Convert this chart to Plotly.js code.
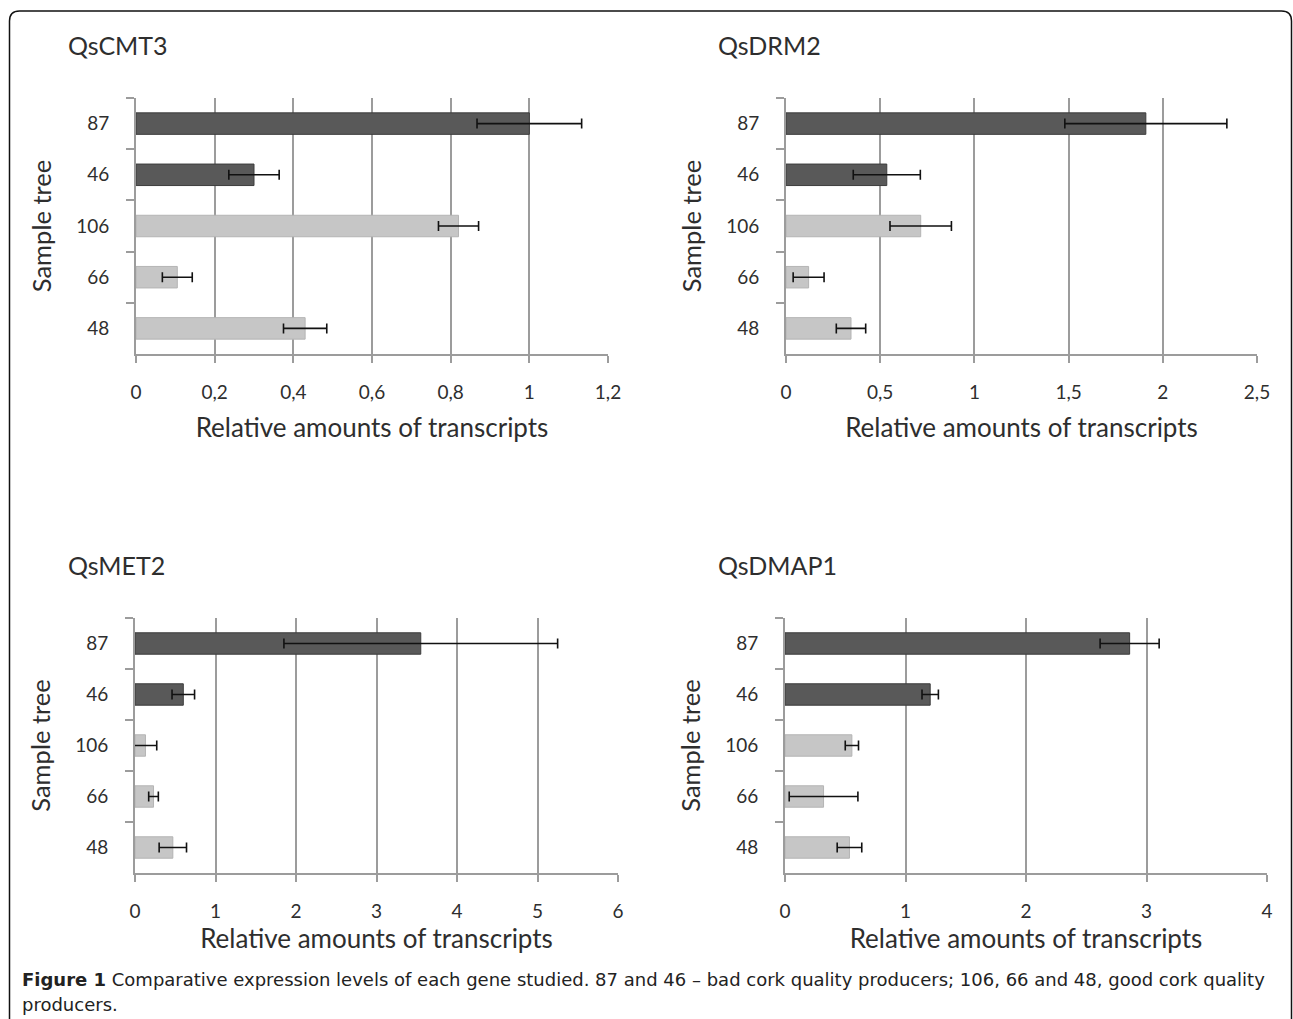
<!DOCTYPE html>
<html>
<head>
<meta charset="utf-8">
<script src="https://cdn.plot.ly/plotly-3.0.1.min.js"></script>
<style>
  html, body { margin: 0; padding: 0; background: #ffffff; }
  #chart { width: 1293px; height: 1019px; }
</style>
</head>
<body>
<div id="chart"></div>
<script>
// ---- Data ----
const categories = ["87", "46", "106", "66", "48"];
const quality = ["bad", "bad", "good", "good", "good"];

const genes = ["QsCMT3", "QsDRM2", "QsMET2", "QsDMAP1"];

const cmt3Values = [1.0, 0.30, 0.82, 0.105, 0.43];
const cmt3Errors = [0.133, 0.064, 0.051, 0.038, 0.055];

const drm2Values = [1.91, 0.535, 0.715, 0.12, 0.345];
const drm2Errors = [0.43, 0.178, 0.163, 0.082, 0.078];

const met2Values = [3.55, 0.60, 0.13, 0.23, 0.47];
const met2Errors = [1.70, 0.14, 0.14, 0.06, 0.17];

const dmap1Values = [2.86, 1.205, 0.555, 0.32, 0.535];
const dmap1Errors = [0.245, 0.068, 0.055, 0.285, 0.102];

const axisMax = [1.2, 2.5, 6, 4];
const axisStep = [0.2, 0.5, 1, 1];

const xTitle = "Relative amounts of transcripts";
const yTitle = "Sample tree";
const captionBold = "Figure 1";
const captionLine1 = " Comparative expression levels of each gene studied. 87 and 46 \u2013 bad cork quality producers; 106, 66 and 48, good cork quality";
const captionLine2 = "producers.";

// ---- Styling / layout ----
const W = 1293, H = 1019;
const colorFor = { bad: "#595959", good: "#c6c6c6" };
const lineFor = { bad: "#3c3c3c", good: "#b4b4b4" };
const fontFam = "Lato, 'Open Sans', sans-serif";
const textCol = "#2e2e2e";
const gridCol = "#9c9c9c";

const valuesList = [cmt3Values, drm2Values, met2Values, dmap1Values];
const errorsList = [cmt3Errors, drm2Errors, met2Errors, dmap1Errors];

// pixel boxes of the plotting areas [x0, x1, yTop, yBottom]
const boxes = [
  [136, 608, 98, 354],
  [786, 1257, 98, 354],
  [135, 618, 618, 873],
  [785, 1267, 618, 873]
];
const titlePos = [
  [66, 45], [716, 45], [66, 565], [716, 565]
];
const xStandoff = [17, 17, 0, 0];

const data = [];
const layout = {
  width: W, height: H,
  margin: { l: 0, r: 0, t: 0, b: 0 },
  paper_bgcolor: "#ffffff",
  plot_bgcolor: "#ffffff",
  showlegend: false,
  separators: ",.",
  annotations: [],
  shapes: []
};

genes.forEach((g, i) => {
  const suffix = i === 0 ? "" : String(i + 1);
  const b = boxes[i];
  data.push({
    type: "bar",
    orientation: "h",
    y: categories,
    x: valuesList[i],
    xaxis: "x" + suffix,
    yaxis: "y" + suffix,
    width: 0.42,
    marker: {
      color: quality.map(q => colorFor[q]),
      line: { color: quality.map(q => lineFor[q]), width: 1 }
    },
    error_x: {
      type: "data",
      array: errorsList[i],
      visible: true,
      color: "#111111",
      thickness: 1.6,
      width: 5
    },
    hoverinfo: "x+y"
  });

  layout["xaxis" + suffix] = {
    domain: [b[0] / W, b[1] / W],
    anchor: "y" + suffix,
    range: [0, axisMax[i]],
    dtick: axisStep[i],
    tick0: 0,
    showgrid: true,
    gridcolor: gridCol,
    gridwidth: 2,
    zeroline: false,
    showline: true,
    linecolor: gridCol,
    linewidth: 2,
    ticks: "outside",
    ticklen: 7,
    tickwidth: 2,
    tickcolor: gridCol,
    ticklabelstandoff: 13,
    tickfont: { family: fontFam, size: 19, color: textCol },
    title: {
      text: xTitle,
      font: { family: fontFam, size: 26, color: textCol },
      standoff: xStandoff[i]
    },
    fixedrange: true
  };
  layout["yaxis" + suffix] = {
    domain: [1 - b[3] / H, 1 - b[2] / H],
    anchor: "x" + suffix,
    type: "category",
    autorange: "reversed",
    showgrid: false,
    zeroline: false,
    showline: true,
    linecolor: gridCol,
    linewidth: 2,
    ticks: "outside",
    tickson: "boundaries",
    ticklen: 8,
    tickwidth: 2,
    tickcolor: gridCol,
    ticklabelstandoff: 21,
    tickfont: { family: fontFam, size: 19, color: textCol },
    title: {
      text: yTitle,
      font: { family: fontFam, size: 25.5, color: textCol },
      standoff: 17
    },
    fixedrange: true
  };

  layout.annotations.push({
    xref: "paper", yref: "paper",
    x: titlePos[i][0] / W, y: 1 - titlePos[i][1] / H,
    xanchor: "left", yanchor: "middle",
    text: g,
    showarrow: false,
    font: { family: fontFam, size: 25, color: textCol }
  });
});

// caption (two lines)
const capFont = { family: "'DejaVu Sans', sans-serif", size: 18, color: "#222222" };
layout.annotations.push({
  xref: "paper", yref: "paper",
  x: 20 / W, y: 1 - 979 / H,
  xanchor: "left", yanchor: "middle",
  align: "left",
  text: "<b>" + captionBold + "</b>" + captionLine1,
  showarrow: false,
  font: capFont
});
layout.annotations.push({
  xref: "paper", yref: "paper",
  x: 20 / W, y: 1 - 1004 / H,
  xanchor: "left", yanchor: "middle",
  align: "left",
  text: captionLine2,
  showarrow: false,
  font: capFont
});

// rounded outer frame
const fx0 = 9.5 / W, fx1 = 1291.5 / W, fyTop = 1 - 11 / H, fyBot = 1 - 1040 / H;
const rx = 10 / W, ry = 10 / H;
layout.shapes.push({
  type: "path",
  xref: "paper", yref: "paper",
  path: `M ${fx0} ${fyBot} L ${fx0} ${fyTop - ry} Q ${fx0} ${fyTop} ${fx0 + rx} ${fyTop} L ${fx1 - rx} ${fyTop} Q ${fx1} ${fyTop} ${fx1} ${fyTop - ry} L ${fx1} ${fyBot}`,
  line: { color: "#111111", width: 1.5 },
  fillcolor: "rgba(0,0,0,0)"
});

Plotly.newPlot("chart", data, layout, { displayModeBar: false, staticPlot: true });
</script>
</body>
</html>
